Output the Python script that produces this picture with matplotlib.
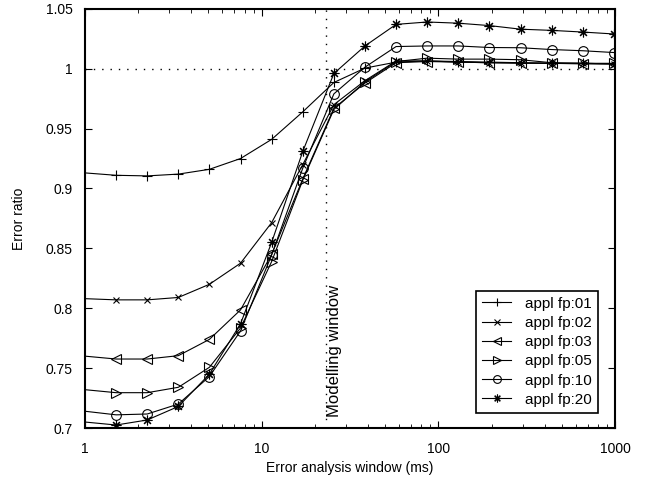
import numpy as np
import matplotlib
matplotlib.use("Agg")
import matplotlib.pyplot as plt
import matplotlib.ticker as ticker
import matplotlib.transforms as mtransforms

plt.rcParams["font.family"] = ["Liberation Sans", "DejaVu Sans"]
plt.rcParams["font.size"] = 10

# analysis window sizes (ms), log spaced by factor 1.5
window_ms = [1.0, 1.5, 2.25, 3.375, 5.06, 7.59, 11.39, 17.09, 25.63, 38.44,
             57.67, 86.5, 129.7, 194.6, 291.9, 437.9, 656.8, 985.3]

fp01 = [0.913, 0.911, 0.9105, 0.912, 0.916, 0.925, 0.941, 0.964, 0.9885, 1.0005,
        1.0055, 1.0065, 1.006, 1.0055, 1.005, 1.0045, 1.0045, 1.004]
fp02 = [0.808, 0.807, 0.807, 0.809, 0.820, 0.8376, 0.8715, 0.920, 0.970, 0.990,
        1.0065, 1.0065, 1.0055, 1.005, 1.0047, 1.0045, 1.0045, 1.004]
fp03 = [0.760, 0.7576, 0.7576, 0.7604, 0.774, 0.7986, 0.845, 0.908, 0.967, 0.988,
        1.005, 1.006, 1.0055, 1.005, 1.0047, 1.0045, 1.004, 1.004]
fp05 = [0.732, 0.7295, 0.7295, 0.734, 0.7507, 0.7835, 0.839, 0.907, 0.966, 0.989,
        1.006, 1.0088, 1.008, 1.008, 1.0075, 1.005, 1.0045, 1.0045]
fp10 = [0.714, 0.711, 0.7117, 0.720, 0.743, 0.781, 0.8445, 0.917, 0.979, 1.0013,
        1.0185, 1.019, 1.019, 1.0177, 1.0175, 1.016, 1.015, 1.0135]
fp20 = [0.705, 0.7025, 0.7067, 0.718, 0.745, 0.787, 0.855, 0.931, 0.996, 1.019,
        1.037, 1.039, 1.038, 1.036, 1.033, 1.032, 1.0306, 1.029]

series = [fp01, fp02, fp03, fp05, fp10, fp20]
labels = ["appl fp:01", "appl fp:02", "appl fp:03", "appl fp:05", "appl fp:10", "appl fp:20"]
# matlab style markers; (8, 2, 0) is an eight-armed asterisk
markers = ["+", "x", "<", ">", "o", (8, 2, 0)]
msizes = [7.5, 5, 7, 7, 7, 7]

modelling_window = 23.0
yticks = [0.7, 0.75, 0.8, 0.85, 0.9, 0.95, 1.0, 1.05]
ytick_labels = ["0.7", "0.75", "0.8", "0.85", "0.9", "0.95", "1", "1.05"]

fig = plt.figure(figsize=(6.46, 4.82), dpi=100)
ax = fig.add_axes([0.1316, 0.112, 0.8204, 0.8697])

for vals, lab, mk, ms in zip(series, labels, markers, msizes):
    ax.plot(window_ms, vals, color="black", lw=0.8, marker=mk, ms=ms,
            mfc="none", mew=0.8, markevery=slice(1, None), label=lab)

ax.axvline(modelling_window, color="black", lw=1.0, ls=(0, (1, 5)))
ax.axhline(1.0, color="black", lw=1.0, ls=(0, (1, 5)))

trans = mtransforms.offset_copy(ax.transData, fig=fig, x=1, y=0, units="dots")
ax.text(modelling_window, 0.709, "Modelling window", rotation=90, fontsize=12,
        ha="left", va="bottom", transform=trans)

ax.set_xscale("log")
ax.set_xlim(1, 1000)
ax.set_ylim(0.7, 1.05)
ax.xaxis.set_major_locator(ticker.FixedLocator([1, 10, 100, 1000]))
ax.xaxis.set_major_formatter(ticker.FixedFormatter(["1", "10", "100", "1000"]))
ax.xaxis.set_minor_locator(ticker.LogLocator(base=10, subs=np.arange(2, 10)))
ax.xaxis.set_minor_formatter(ticker.NullFormatter())
ax.set_yticks(yticks)
ax.set_yticklabels(ytick_labels)

ax.tick_params(which="both", direction="in", top=True, right=True, labelsize=10)
ax.tick_params(which="major", length=5, width=0.8)
ax.tick_params(axis="x", which="major", pad=10)
ax.tick_params(axis="y", which="major", pad=9)
ax.tick_params(which="minor", length=3, width=0.6)
for sp in ax.spines.values():
    sp.set_linewidth(1.5)

ax.set_xlabel("Error analysis window (ms)", labelpad=4)
ax.set_ylabel("Error ratio", labelpad=14)

leg = ax.legend(loc="lower right", bbox_to_anchor=(0.968, 0.036), fancybox=False,
                edgecolor="black", framealpha=1, handlelength=1.9, markerscale=0.8,
                labelspacing=0.34, borderpad=0.4, handletextpad=0.9,
                borderaxespad=0, fontsize=11)
leg.get_frame().set_linewidth(1.2)

fig.savefig("out.png", dpi=100)
